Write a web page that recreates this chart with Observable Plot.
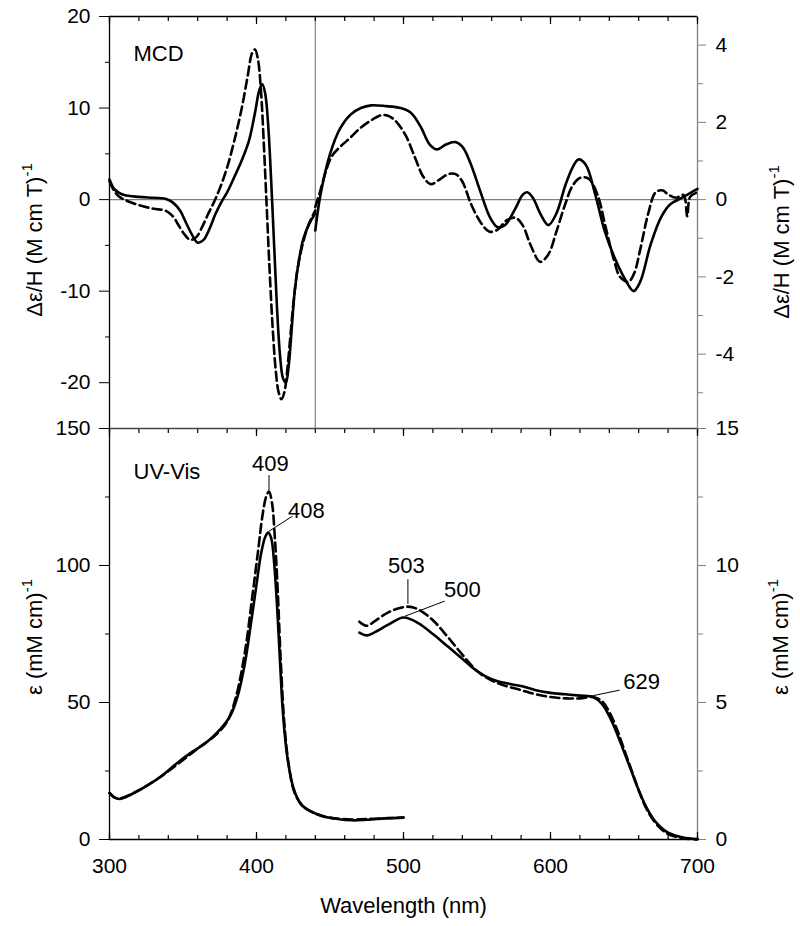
<!DOCTYPE html>
<html><head><meta charset="utf-8">
<script src="https://cdn.jsdelivr.net/npm/d3@7"></script>
<script src="https://cdn.jsdelivr.net/npm/@observablehq/plot@0.6"></script>
<style>
body{margin:0;background:#fff;}
#wrap{position:relative;width:800px;height:926px;font-family:"Liberation Sans",Arial,sans-serif;}
#wrap svg{position:absolute;left:0;overflow:visible;background:transparent;}
</style></head><body><div id="wrap"></div>
<script>
// ---------- DATA ----------
// MCD, short-wavelength part (left axis, M^-1 cm^-1 T^-1)
const mcdSolidUV = [[300,2.2],[303,1.2],[306,0.8],[310,0.5],[320,0.3],[330,0.2],[338,0.1],[343,-0.3],[348,-1.2],[352,-2.5],[356,-3.8],[360,-4.7],[364,-4.4],[368,-3.2],[372,-1.6],[376,-0.3],[380,0.8],[385,2.5],[390,4.3],[395,6.5],[399,9.5],[402,12],[404,12.6],[406,11.5],[408,8],[410,2],[412,-5],[414,-12],[416,-17],[418,-19.5],[420,-20],[422,-18],[424,-14],[426,-10],[429,-6.5],[432,-4.2],[436,-2.6],[440,-1.5]];
const mcdDashUV = [[300,2.0],[303,1.0],[306,0.4],[310,0.0],[320,-0.6],[330,-1.0],[338,-1.2],[343,-1.8],[347,-2.8],[351,-3.8],[355,-4.4],[359,-4.1],[363,-3.0],[367,-1.6],[371,-0.3],[375,1.2],[380,3.5],[385,6.5],[390,10],[394,13.5],[397,16],[399,16.4],[401,15.3],[403,12],[405,6],[407,-1],[409,-8],[411,-14],[413,-18.5],[415,-21],[417,-21.8],[419,-21],[421,-18.5],[423,-15],[425,-11.5],[428,-7.5],[432,-4.5],[436,-2.5],[440,-1.2]];
// MCD, long-wavelength part (right axis)
const mcdSolidVis = [[440,-0.80],[443.5,0.12],[450,1.18],[457,1.85],[464,2.20],[471,2.37],[478,2.44],[488,2.42],[498,2.37],[505,2.25],[511.5,1.90],[518,1.42],[523,1.30],[528.5,1.42],[535,1.49],[540,1.37],[545.5,0.95],[552,0.24],[559,-0.47],[564,-0.71],[569,-0.66],[576,-0.24],[581,0.12],[584,0.19],[588,0.05],[593,-0.36],[598.5,-0.66],[604,-0.36],[610,0.36],[615,0.83],[619,1.04],[624,0.90],[630.5,0.12],[637,-0.83],[644,-1.54],[651,-2.08],[656.5,-2.37],[661,-2.13],[668,-1.18],[675,-0.47],[681.5,-0.12],[688,0.02],[695,0.17],[700,0.28]];
const mcdDashVis = [[440,-0.19],[443.5,0.24],[447,0.71],[451.5,1.14],[457,1.37],[464,1.61],[470.5,1.85],[477.5,2.04],[484.5,2.18],[489,2.18],[494.5,2.04],[501.5,1.66],[508,1.07],[513.5,0.59],[518.5,0.40],[524.5,0.52],[530.5,0.66],[535.5,0.66],[540,0.47],[546,-0.12],[552.5,-0.59],[558.5,-0.83],[564,-0.78],[570,-0.54],[576,-0.47],[581,-0.66],[586.5,-1.18],[593,-1.61],[598.5,-1.42],[604,-0.83],[610,-0.12],[615,0.36],[620.5,0.57],[626,0.54],[632,0.12],[637.5,-0.71],[643,-1.54],[647.5,-2.01],[653,-2.13],[657,-1.90],[661,-1.30],[666.5,-0.36],[671.5,0.19],[676,0.24],[680.5,0.12],[685.5,0.05],[690.5,0.12],[693,-0.43],[695,0.07],[700,0.19]];
// UV-Vis, Soret region (left axis, mM^-1 cm^-1)
const uvSolidSoret = [[300,17],[303,15.5],[307,14.8],[315,16.5],[325,19.5],[335,23],[345,27.5],[355,31.5],[365,35],[375,40],[382,45],[387,52],[392,64],[396,78],[400,93],[403,104],[406,110.5],[408,112],[410,110],[412,101],[414,85],[416,65],[418,46],[421,30],[425,19],[430,13],[436,10.5],[445,8.5],[455,7.5],[465,7],[475,7.2],[490,7.8],[500,8]];
const uvDashSoret = [[300,17],[303,15.5],[307,15],[320,18],[335,23],[350,29],[362,34],[372,38],[380,43],[386,52],[392,68],[397,88],[401,105],[404,118],[406.5,125],[408.5,127],[410.5,123],[412.5,110],[414.5,90],[416.5,65],[419,42],[422,27],[426,17],[432,12],[440,9.5],[450,8],[465,7.3],[480,7.6],[500,8]];
// UV-Vis, visible region (right axis)
const uvSolidVis = [[470,7.55],[475,7.45],[480,7.55],[490,7.85],[500,8.1],[510,7.9],[520,7.5],[530,7.05],[540,6.6],[550,6.15],[560,5.85],[570,5.7],[580,5.6],[590,5.45],[600,5.35],[610,5.3],[620,5.25],[629,5.2],[635,4.95],[640,4.5],[645,3.9],[650,3.2],[655,2.5],[660,1.8],[665,1.2],[670,0.75],[675,0.45],[680,0.25],[690,0.07],[700,0.02]];
const uvDashVis = [[470,7.95],[475,7.8],[480,7.95],[490,8.3],[503,8.5],[510,8.4],[520,8.0],[530,7.4],[540,6.75],[550,6.15],[560,5.8],[570,5.6],[580,5.45],[590,5.3],[600,5.2],[610,5.15],[620,5.15],[629,5.2],[635,5.05],[640,4.65],[645,4.05],[650,3.3],[655,2.55],[660,1.8],[665,1.15],[670,0.7],[675,0.4],[680,0.2],[690,0.05],[700,0.0]];
// peak labels: text, label x, label y, leader from (x1,y1) to peak (x2,y2), left-axis units
const peakLabels = [
  {text:"409", lx:409.5, ly:137, x1:408.5, y1:133, x2:408.5, y2:127.5},
  {text:"408", lx:434, ly:120, x1:424.5, y1:118, x2:408.5, y2:112.5},
  {text:"503", lx:502, ly:100, x1:503, y1:95, x2:503, y2:86},
  {text:"500", lx:540, ly:91, x1:528, y1:87, x2:501, y2:81.5},
  {text:"629", lx:662, ly:57.5, x1:647, y1:54.5, x2:629, y2:52.5}
];
// tick values
const xMajor = [300,400,500,600,700];
const xMinor = [300,320,340,360,380,400,420,440,460,480,500,520,540,560,580,600,620,640,660,680,700];
const mcdLeftMajor = [-20,-10,0,10,20];
const mcdLeftMinor = [-25,-15,-5,5,15];
const mcdRightMajor = [-4,-2,0,2,4];
const mcdRightMinor = [-5,-3,-1,1,3];
const mcdRightPerLeft = 0.237;
const uvLeftMajor = [0,50,100,150];
const uvLeftMinor = [25,75,125];
const uvRightMajor = [0,5,10,15];
const uvRightMinor = [2.5,7.5,12.5];
const uvRightPerLeft = 0.1;

// ---------- RENDER ----------
const FONT = "'Liberation Sans', Arial, sans-serif";
const TFS = 21;   // tick labels
const LFS = 22;   // titles, annotations
const wrap = document.getElementById("wrap");
const k = mcdRightPerLeft, u = uvRightPerLeft;
const grey = "#808080";
const curve = "catmull-rom";
const sw = 2.6, dash = "9,4.5";
const fmt = d => String(d);

const common = {
  width: 800, marginLeft: 109, marginRight: 103,
  x: {domain: [300, 700]},
  style: {fontFamily: FONT, fontSize: TFS + "px", color: "#000", background: "transparent", overflow: "visible"}
};

const topPlot = Plot.plot({
  ...common,
  height: 428, marginTop: 16, marginBottom: 0,
  y: {domain: [-25, 20]},
  marks: [
    Plot.ruleY([0], {stroke: grey, strokeWidth: 1.2}),
    Plot.ruleX([440], {stroke: grey, strokeWidth: 1.2}),
    Plot.ruleY([20], {stroke: "#000", strokeWidth: 1.3}),
    Plot.ruleX([300], {stroke: "#000", strokeWidth: 1.3}),
    Plot.ruleX([700], {stroke: grey, strokeWidth: 1.3}),
    Plot.axisX(xMinor, {anchor: "top", tickSize: -4, tickFormat: () => "", label: null, strokeWidth: 1.2}),
    Plot.axisX(xMajor, {anchor: "top", tickSize: -7, tickFormat: () => "", label: null, strokeWidth: 1.2}),
    Plot.axisY(mcdLeftMajor, {anchor: "left", tickSize: 10, tickPadding: 9, tickFormat: fmt, label: null, fontSize: TFS}),
    Plot.axisY(mcdLeftMinor, {anchor: "left", tickSize: 4, tickFormat: () => "", label: null}),
    Plot.axisY(mcdRightMajor.map(d => d / k), {anchor: "right", tickSize: 8, tickPadding: 10, tickFormat: d => String(Math.round(d * k)), label: null, stroke: grey, fill: "#000", fontSize: TFS}),
    Plot.axisY(mcdRightMinor.map(d => d / k), {anchor: "right", tickSize: 5, tickFormat: () => "", label: null, stroke: grey}),
    Plot.line(mcdSolidUV, {x: d => d[0], y: d => d[1], stroke: "#000", strokeWidth: sw, curve}),
    Plot.line(mcdDashUV, {x: d => d[0], y: d => d[1], stroke: "#000", strokeWidth: sw, strokeDasharray: dash, curve}),
    Plot.line(mcdSolidVis, {x: d => d[0], y: d => d[1] / k, stroke: "#000", strokeWidth: sw, curve}),
    Plot.line(mcdDashVis, {x: d => d[0], y: d => d[1] / k, stroke: "#000", strokeWidth: sw, strokeDasharray: dash, curve}),
    Plot.text(["MCD"], {frameAnchor: "top-left", dx: 24, dy: 29, fontSize: LFS, textAnchor: "start"})
  ]
});
topPlot.style.top = "0px";
wrap.append(topPlot);

const botPlot = Plot.plot({
  ...common,
  height: 498, marginTop: 0, marginBottom: 87,
  y: {domain: [0, 150]},
  marks: [
    Plot.ruleY([150], {stroke: "#444", strokeWidth: 1.3}),
    Plot.ruleY([0], {stroke: "#000", strokeWidth: 1.3}),
    Plot.ruleX([300], {stroke: "#000", strokeWidth: 1.3}),
    Plot.ruleX([700], {stroke: grey, strokeWidth: 1.3}),
    Plot.axisX(xMinor, {anchor: "top", tickSize: -4, tickFormat: () => "", label: null, strokeWidth: 1.2}),
    Plot.axisX(xMajor, {anchor: "top", tickSize: -7, tickFormat: () => "", label: null, strokeWidth: 1.2}),
    Plot.axisX(xMinor, {anchor: "bottom", tickSize: -4, tickFormat: () => "", label: null, strokeWidth: 1.2}),
    Plot.axisX(xMajor, {anchor: "bottom", tickSize: -7, tickFormat: () => "", label: null, strokeWidth: 1.2}),
    Plot.axisX(xMajor, {anchor: "bottom", tickSize: 0, tickPadding: 19, tickFormat: fmt, fontSize: TFS, label: null}),
    Plot.text(["Wavelength (nm)"], {frameAnchor: "bottom", dy: 73, lineAnchor: "bottom", fontSize: LFS}),
    Plot.axisY(uvLeftMajor, {anchor: "left", tickSize: 10, tickPadding: 9, tickFormat: fmt, label: null, fontSize: TFS}),
    Plot.axisY(uvLeftMinor, {anchor: "left", tickSize: 4, tickFormat: () => "", label: null}),
    Plot.axisY(uvRightMajor.map(d => d / u), {anchor: "right", tickSize: 8, tickPadding: 10, tickFormat: d => String(Math.round(d * u)), label: null, stroke: grey, fill: "#000", fontSize: TFS}),
    Plot.axisY(uvRightMinor.map(d => d / u), {anchor: "right", tickSize: 5, tickFormat: () => "", label: null, stroke: grey}),
    Plot.line(uvSolidSoret, {x: d => d[0], y: d => d[1], stroke: "#000", strokeWidth: sw, curve}),
    Plot.line(uvDashSoret, {x: d => d[0], y: d => d[1], stroke: "#000", strokeWidth: sw, strokeDasharray: dash, curve}),
    Plot.line(uvSolidVis, {x: d => d[0], y: d => d[1] / u, stroke: "#000", strokeWidth: sw, curve}),
    Plot.line(uvDashVis, {x: d => d[0], y: d => d[1] / u, stroke: "#000", strokeWidth: sw, strokeDasharray: dash, curve}),
    Plot.link(peakLabels, {x1: "x1", y1: "y1", x2: "x2", y2: "y2", stroke: "#000", strokeWidth: 1}),
    Plot.text(peakLabels, {x: "lx", y: "ly", text: "text", fontSize: LFS}),
    Plot.text(["UV-Vis"], {frameAnchor: "top-left", dx: 24, dy: 35, fontSize: LFS, textAnchor: "start"})
  ]
});
botPlot.style.top = "428px";
wrap.append(botPlot);

// rotated axis titles with superscripts
function yTitle(svg, x, y, main, sup) {
  const t = d3.select(svg).append("text")
    .attr("transform", `translate(${x},${y}) rotate(-90)`)
    .attr("text-anchor", "middle")
    .attr("font-family", FONT).attr("font-size", LFS).attr("fill", "#000");
  t.append("tspan").text(main);
  t.append("tspan").attr("dy", -10).attr("font-size", 15).text(sup);
}
yTitle(topPlot, 42, 240, "\u0394\u03b5/H (M cm T)", "-1");
yTitle(topPlot, 789, 242, "\u0394\u03b5/H (M cm T)", "-1");
yTitle(botPlot, 42, 209, "\u03b5 (mM cm)", "-1");
yTitle(botPlot, 788, 209, "\u03b5 (mM cm)", "-1");
</script></body></html>
